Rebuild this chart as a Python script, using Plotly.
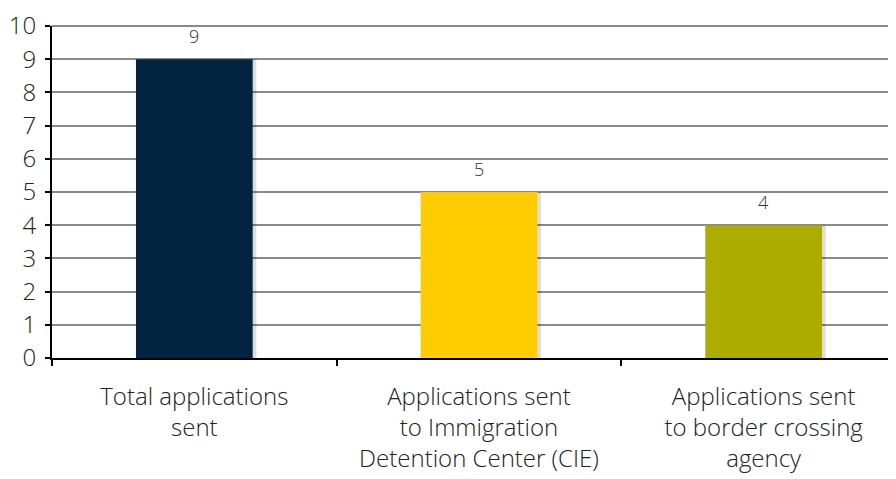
import plotly.graph_objects as go

categorias = [
    "Total applications<br>sent",
    "Applications sent<br>to Immigration<br>Detention Center (CIE)",
    "Applications sent<br>to border crossing<br>agency",
]
valores = [9, 5, 4]
colores = ["#022440", "#FFCC00", "#ADAD00"]
ticks_y = list(range(0, 11))

FUENTE = "Open Sans, Liberation Sans, sans-serif"
ANCHO = 0.41
GRIS = "#8a8a8a"

fig = go.Figure()
# sombra suave a la derecha de cada barra
fig.add_trace(
    go.Bar(
        x=categorias,
        y=valores,
        marker=dict(color="rgba(0,0,0,0.13)", line=dict(width=0)),
        width=ANCHO,
        offset=-ANCHO / 2 + 0.013,
        hoverinfo="skip",
    )
)
fig.add_trace(
    go.Bar(
        x=categorias,
        y=valores,
        marker=dict(color=colores, line=dict(width=0)),
        width=ANCHO,
        offset=-ANCHO / 2,
    )
)
# etiquetas de valor encima de cada barra
for cat, val in zip(categorias, valores):
    fig.add_annotation(
        x=cat,
        y=val,
        text=str(val),
        showarrow=False,
        yanchor="bottom",
        yshift=9,
        font=dict(size=18, color="#333333", family=FUENTE, weight=300),
    )

# plotly no dibuja la rejilla en el borde superior: línea en lo alto del eje
# (layer "above": con "below" queda tapada por el fondo del área de trazado)
fig.add_shape(
    type="line",
    xref="x domain",
    x0=0,
    x1=1,
    yref="y domain",
    y0=1,
    y1=1,
    line=dict(color=GRIS, width=2),
    layer="above",
)

# la página tiene 8px de margen en el body, se compensa aquí
fig.update_layout(
    width=888,
    height=471,
    margin=dict(l=44, r=0, t=14, b=121),
    plot_bgcolor="white",
    paper_bgcolor="white",
    showlegend=False,
    barmode="overlay",
    font=dict(family=FUENTE, color="#222222", weight=300),
)
fig.update_xaxes(
    range=[-0.5, 2.465],
    showline=True,
    linecolor="black",
    linewidth=2,
    ticks="outside",
    tickson="boundaries",
    ticklen=6,
    tickwidth=2,
    tickcolor="black",
    ticklabelstandoff=16,
    tickfont=dict(size=24, family=FUENTE, weight=300, color="#222222"),
    showgrid=False,
)
fig.update_yaxes(
    range=[ticks_y[0], ticks_y[-1]],
    tickvals=ticks_y,
    showline=True,
    linecolor="black",
    linewidth=2,
    ticks="outside",
    ticklen=5,
    tickwidth=2,
    tickcolor="black",
    ticklabelstandoff=4,
    ticklabeloverflow="allow",
    tickfont=dict(size=24, family=FUENTE, weight=300, color="#222222"),
    showgrid=True,
    gridcolor=GRIS,
    gridwidth=2,
    zeroline=False,
)
fig.write_html("out.html")
